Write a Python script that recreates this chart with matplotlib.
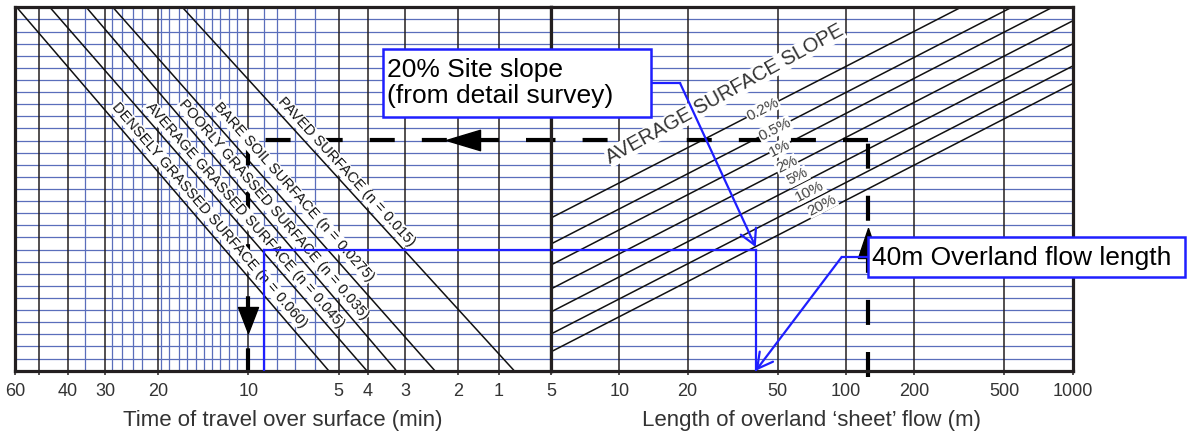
import numpy as np
import matplotlib
matplotlib.use('Agg')
import matplotlib.pyplot as plt
from matplotlib.path import Path
from matplotlib.patches import Rectangle
from matplotlib.lines import Line2D
from matplotlib.ticker import NullLocator, FixedLocator, FixedFormatter

plt.rcParams['font.family'] = ['Liberation Sans', 'DejaVu Sans']

# ---------------- data ----------------
TIME_LIM = (60, 0.98)
LENGTH_LIM = (5, 1000)
Y_LIM = (0, 30)

time_major = [50, 40, 30, 20, 10, 5, 4, 3, 2, 1.46]
time_tick_pos = [60, 50, 40, 30, 20, 10, 5, 4, 3, 2, 1.46]
time_tick_labels = ['60', '', '40', '30', '20', '10', '5', '4', '3', '2', '1']
time_minor = [35, 28.4, 26.3, 24.3, 22.6, 19.6, 18.4, 17.1, 16.0, 15.0, 14.1,
              13.2, 12.4, 11.6, 10.9, 8.9, 8, 7, 6]

length_major = [10, 20, 50, 100, 200, 500]
length_ticks = [5, 10, 20, 50, 100, 200, 500, 1000]
length_tick_labels = ['5', '10', '20', '50', '100', '200', '500', '1000']

h_grid = list(range(1, 30))

surfaces = ['DENSELY GRASSED SURFACE', 'AVERAGE GRASSED SURFACE',
            'POORLY GRASSED SURFACE', 'BARE SOIL SURFACE', 'PAVED SURFACE']
manning_n = ['0.060', '0.045', '0.035', '0.0275', '0.015']
surf_t_top = [59.2, 45.9, 34.7, 28.3, 16.6]       # time where line meets top
surf_t_bottom = [5.40, 4.03, 3.21, 2.39, 1.30]    # time where line meets bottom
surf_label_t = [13.5, 10.3, 8.23, 7.07, 4.72]
surf_label_y = [12.86, 12.86, 13.27, 14.76, 16.4]

slopes = ['0.2%', '0.5%', '1%', '2%', '5%', '10%', '20%']
slope_y_at_5m = [12.61, 10.46, 8.73, 6.75, 4.85, 3.03, 1.56]
slope_y_at_1000m = [34.74, 32.59, 30.86, 28.88, 26.98, 25.15, 23.70]
slope_label_L = [42.9, 48.6, 51.2, 54.8, 61.0, 69.4, 78.2]
slope_label_y = [21.59, 19.93, 18.37, 16.99, 16.02, 14.78, 13.68]

# worked examples
dash_length, dash_y, dash_time = 125, 19.05, 10
blue_length, blue_y, blue_time = 40, 10.0, 8.9

# ---------------- style ----------------
W, H = 1187, 434
BLUE = '#1f1fff'
GRIDBLUE = '#5a6ebb'
DARK = '#231f20'
fig = plt.figure(figsize=(W / 100, H / 100), dpi=100)
fig.patch.set_facecolor('white')


def fx(px):
    return px / W


def fy(py):
    return 1 - py / H


top, bot = 7.3, 370.7
axL = fig.add_axes([fx(15), fy(bot), fx(551) - fx(15), (bot - top) / H])
axR = fig.add_axes([fx(551), fy(bot), fx(1072.7) - fx(551), (bot - top) / H])

for ax in (axL, axR):
    ax.set_xscale('log')
    ax.set_ylim(*Y_LIM)
    ax.set_yticks([])
    ax.xaxis.set_minor_locator(NullLocator())
    for s in ax.spines.values():
        s.set_linewidth(2.3)
        s.set_color(DARK)
        s.set_zorder(6)
    ax.tick_params(axis='x', which='major', direction='out', length=3,
                   width=1.1, color=DARK, labelsize=13, labelcolor='#333333', pad=6)
    for yv in h_grid:
        ax.axhline(yv, color=GRIDBLUE, lw=0.9, zorder=1)

axL.set_xlim(*TIME_LIM)
axL.xaxis.set_major_locator(FixedLocator(time_tick_pos))
axL.xaxis.set_major_formatter(FixedFormatter(time_tick_labels))
axR.set_xlim(*LENGTH_LIM)
axR.xaxis.set_major_locator(FixedLocator(length_ticks))
axR.xaxis.set_major_formatter(FixedFormatter(length_tick_labels))

for t in time_minor:
    axL.axvline(t, color=GRIDBLUE, lw=0.9, zorder=1)
for t in time_major:
    axL.axvline(t, color=DARK, lw=1.1, zorder=2)
for L in length_major:
    axR.axvline(L, color=DARK, lw=1.1, zorder=2)

axL.set_xlabel('Time of travel over surface (min)', fontsize=16, color='#333333', labelpad=7)
axR.set_xlabel('Length of overland \u2018sheet\u2019 flow (m)', fontsize=16, color='#333333', labelpad=7)


def disp_angle(ax, p0, p1):
    a = ax.transData.transform(p0)
    b = ax.transData.transform(p1)
    return np.degrees(np.arctan2(b[1] - a[1], b[0] - a[0]))


# surface lines (left panel)
for name, n, tt, tb, lt, ly in zip(surfaces, manning_n, surf_t_top, surf_t_bottom,
                                   surf_label_t, surf_label_y):
    axL.plot([tt, tb], [Y_LIM[1], Y_LIM[0]], color='#111111', lw=1.1, zorder=3)
    ang = disp_angle(axL, (tt, Y_LIM[1]), (tb, Y_LIM[0]))
    axL.text(lt, ly, f'{name} (n = {n})', rotation=ang, rotation_mode='anchor',
             ha='center', va='center', fontsize=10.5, color='#111111', zorder=7,
             bbox=dict(facecolor='white', edgecolor='none', pad=0.5))

# slope lines (right panel)
for s, y0, y1, lL, ly in zip(slopes, slope_y_at_5m, slope_y_at_1000m, slope_label_L, slope_label_y):
    axR.plot([LENGTH_LIM[0], LENGTH_LIM[1]], [y0, y1], color='#111111', lw=1.1, zorder=3)
    ang = disp_angle(axR, (LENGTH_LIM[0], y0), (LENGTH_LIM[1], y1))
    axR.text(lL, ly, s, rotation=ang, rotation_mode='anchor', ha='center', va='center',
             fontsize=11, color='#444444', zorder=7,
             bbox=dict(facecolor='white', edgecolor='none', pad=0.4))

axR.text(29.3, 22.85, 'AVERAGE SURFACE SLOPE', rotation=29, rotation_mode='anchor',
         ha='center', va='center', fontsize=14.5, color='#333333', zorder=7,
         bbox=dict(facecolor='white', edgecolor='none', pad=0.3))

# black dashed worked example
dkw = dict(color='black', lw=3, linestyle=(0, (6, 6.5)), zorder=5, solid_capstyle='butt')
axR.plot([dash_length, dash_length], [-0.5, dash_y], clip_on=False, **dkw)
axR.plot([dash_length, LENGTH_LIM[0]], [dash_y, dash_y], **dkw)
axL.plot([TIME_LIM[1], dash_time], [dash_y, dash_y], **dkw)
axL.plot([dash_time, dash_time], [dash_y, 0], **dkw)

tri_left = Path([(-1, 0), (1, 0.6), (1, -0.6), (-1, 0)])
tri_down = Path([(0, -1), (-0.77, 1), (0.77, 1), (0, -1)])
tri_up = Path([(0, 1), (-0.67, -1), (0.67, -1), (0, 1)])
axL.plot([1.93], [dash_y], marker=tri_left, markersize=24.5, color='black', zorder=6)
axL.plot([dash_time], [4.16], marker=tri_down, markersize=18.7, color='black', zorder=6)
axR.plot([dash_length], [10.55], marker=tri_up, markersize=21.6, color='black', zorder=6, clip_on=False)

# blue worked example
bkw = dict(color=BLUE, lw=1.6, zorder=8)
axL.plot([blue_time, blue_time], [0, blue_y], **bkw)
axL.plot([blue_time, TIME_LIM[1]], [blue_y, blue_y], **bkw)
axR.plot([LENGTH_LIM[0], blue_length], [blue_y, blue_y], **bkw)
axR.plot([blue_length, blue_length], [blue_y, 0], **bkw)

# callout boxes
box1 = Rectangle((fx(383), fy(117)), fx(651) - fx(383), (117 - 49) / H,
                 transform=fig.transFigure, facecolor='white', edgecolor=BLUE, lw=1.8, zorder=20)
fig.add_artist(box1)
fig.text(fx(387), fy(83), '20% Site slope\n(from detail survey)', fontsize=19, color='black',
         ha='left', va='center', linespacing=1.15, zorder=21)

box2 = Rectangle((fx(868.3), fy(277.3)), fx(1185) - fx(868.3), (277.3 - 236.7) / H,
                 transform=fig.transFigure, facecolor='white', edgecolor=BLUE, lw=1.8, zorder=20)
fig.add_artist(box2)
fig.text(fx(872), fy(257.5), '40m Overland flow length', fontsize=19, color='black',
         ha='left', va='center', zorder=21)

# leaders
fig.add_artist(Line2D([fx(651), fx(680)], [fy(83), fy(83)], transform=fig.transFigure,
                      color=BLUE, lw=1.6, zorder=19))
axR.annotate('', xy=(blue_length, blue_y + 0.2), xycoords='data',
             xytext=(fx(680), fy(83)), textcoords='figure fraction',
             arrowprops=dict(arrowstyle='->,head_length=0.55,head_width=0.3', color=BLUE,
                             lw=1.6, shrinkA=0, shrinkB=0, mutation_scale=20), zorder=19)

fig.add_artist(Line2D([fx(868.3), fx(841.7)], [fy(257), fy(257)], transform=fig.transFigure,
                      color=BLUE, lw=1.6, zorder=19))
axR.annotate('', xy=(blue_length, 0), xycoords='data',
             xytext=(fx(841.7), fy(257)), textcoords='figure fraction',
             arrowprops=dict(arrowstyle='->,head_length=0.55,head_width=0.3', color=BLUE,
                             lw=1.6, shrinkA=0, shrinkB=0, mutation_scale=20),
             annotation_clip=False, zorder=19)

fig.savefig('out.png', dpi=100, facecolor='white')
